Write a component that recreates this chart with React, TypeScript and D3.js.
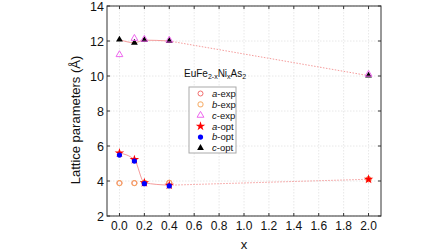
import React from "react";
import * as d3 from "d3";

const xs = [0, 0.12, 0.2, 0.4, 2.0];
const aExp = [3.88, 3.88, 3.9, 3.9, 4.1];
const bExp = [3.88, 3.88, 3.9, 3.9, 4.1];
const cExp = [11.22, 12.15, 12.1, 12.05, 10.1];
const aOpt = [5.6, 5.22, 3.9, 3.76, 4.1];
const bOpt = [5.48, 5.14, 3.85, 3.72, null];
const cOpt = [12.08, 11.9, 12.05, 12.0, 10.02];
const xTicks = [0, 0.2, 0.4, 0.6, 0.8, 1.0, 1.2, 1.4, 1.6, 1.8, 2.0];
const yTicks = [2, 4, 6, 8, 10, 12, 14];
const legendItems = [
  { key: "a", suffix: "-exp", kind: "circle", color: "#f26d6d" },
  { key: "b", suffix: "-exp", kind: "square", color: "#f5a85f" },
  { key: "c", suffix: "-exp", kind: "tri-open", color: "#ee66ee" },
  { key: "a", suffix: "-opt", kind: "star", color: "#ff0000" },
  { key: "b", suffix: "-opt", kind: "dot", color: "#0000ff" },
  { key: "c", suffix: "-opt", kind: "tri", color: "#000000" },
];

const L = 107, R = 381, T = 6, B = 216;
const x = d3.scaleLinear().domain([-0.1, 2.1]).range([L, R]);
const y = d3.scaleLinear().domain([2, 14]).range([B, T]);
const font = "Liberation Sans, Arial, sans-serif";

function Marker({ kind, color, cx, cy }: { kind: string; color: string; cx: number; cy: number }) {
  const sym = (t: d3.SymbolType, size: number) => d3.symbol().type(t).size(size)() as string;
  switch (kind) {
    case "circle":
      return <circle cx={cx} cy={cy} r={2.5} fill="none" stroke={color} strokeWidth={1} />;
    case "square":
      return <rect x={cx - 2.5} y={cy - 2.5} width={5} height={5} rx={2} fill="none" stroke={color} strokeWidth={1} />;
    case "tri-open":
      return <path d={sym(d3.symbolTriangle, 20)} transform={`translate(${cx},${cy})`} fill="none" stroke={color} strokeWidth={1} />;
    case "tri":
      return <path d={sym(d3.symbolTriangle, 20)} transform={`translate(${cx},${cy})`} fill={color} />;
    case "star":
      return <path d={sym(d3.symbolStar, 28)} transform={`translate(${cx},${cy})`} fill={color} />;
    case "dot":
      return <circle cx={cx} cy={cy} r={2.6} fill={color} />;
  }
  return null;
}

export default function App() {
  const smooth = d3
    .line<[number, number]>()
    .x((d) => x(d[0]))
    .y((d) => y(d[1]))
    .curve(d3.curveMonotoneX);
  const straight = d3
    .line<[number, number]>()
    .x((d) => x(d[0]))
    .y((d) => y(d[1]));
  const pts = (vals: number[]) => xs.map((v, i) => [v, vals[i]] as [number, number]);
  const aP = pts(aOpt), cP = pts(cOpt);
  const series: { vals: (number | null)[]; kind: string; color: string }[] = [
    { vals: aExp, kind: "circle", color: legendItems[0].color },
    { vals: bExp, kind: "square", color: legendItems[1].color },
    { vals: cOpt, kind: "tri", color: legendItems[5].color },
    { vals: cExp, kind: "tri-open", color: legendItems[2].color },
    { vals: aOpt, kind: "star", color: legendItems[3].color },
    { vals: bOpt, kind: "dot", color: legendItems[4].color },
  ];
  const lgX = 189, lgY = 87, lgW = 47, lgH = 66, rowH = 10.9;
  const lineStyle = { fill: "none", stroke: "#f28a8a", strokeWidth: 1, opacity: 0.85 };
  return (
    <svg width={448} height={252} style={{ position: "absolute", left: 0, top: 0 }} fontFamily={font}>
      <rect width={448} height={252} fill="#fff" />
      {xTicks.map((t) => (
        <line key={"gx" + t} x1={x(t)} x2={x(t)} y1={T} y2={B} stroke="#e2e2e2" strokeDasharray="1.5 1.5" strokeWidth={0.8} />
      ))}
      {yTicks.map((t) => (
        <line key={"gy" + t} x1={L} x2={R} y1={y(t)} y2={y(t)} stroke="#e2e2e2" strokeDasharray="1.5 1.5" strokeWidth={0.8} />
      ))}
      <path d={smooth(aP.slice(0, 4)) as string} {...lineStyle} />
      <path d={straight(aP.slice(3)) as string} {...lineStyle} strokeDasharray="1.5 1.5" />
      <path d={smooth(cP.slice(0, 4)) as string} {...lineStyle} />
      <path d={straight(cP.slice(3)) as string} {...lineStyle} strokeDasharray="1.5 1.5" />
      {series.map((s, si) =>
        s.vals.map((v, i) =>
          v == null ? null : <Marker key={si + "-" + i} kind={s.kind} color={s.color} cx={x(xs[i])} cy={y(v)} />
        )
      )}
      <rect x={L} y={T} width={R - L} height={B - T} fill="none" stroke="#333" strokeWidth={1} />
      {xTicks.map((t) => (
        <g key={"tx" + t}>
          <line x1={x(t)} x2={x(t)} y1={B} y2={B - 3} stroke="#333" />
          <line x1={x(t)} x2={x(t)} y1={T} y2={T + 3} stroke="#333" />
          <text x={x(t)} y={B + 14} textAnchor="middle" fontSize={12} fill="#111">
            {t.toFixed(1)}
          </text>
        </g>
      ))}
      {yTicks.map((t) => (
        <g key={"ty" + t}>
          <line x1={L} x2={L + 3} y1={y(t)} y2={y(t)} stroke="#333" />
          <line x1={R} x2={R - 3} y1={y(t)} y2={y(t)} stroke="#333" />
          <text x={L - 3} y={y(t) + 4.5} textAnchor="end" fontSize={12.5} fill="#111">
            {t}
          </text>
        </g>
      ))}
      <text x={x(1.0)} y={249} textAnchor="middle" fontSize={13} fill="#111">x</text>
      <text transform={`translate(80,120) rotate(-90)`} textAnchor="middle" fontSize={13} fill="#111">
        Lattice parameters (Å)
      </text>
      <text x={184} y={77} fontSize={10} fill="#111">
        EuFe<tspan fontSize={7} dy={2}>2-x</tspan>
        <tspan dy={-2}>Ni</tspan>
        <tspan fontSize={7} dy={2}>x</tspan>
        <tspan dy={-2}>As</tspan>
        <tspan fontSize={7} dy={2}>2</tspan>
      </text>
      <rect x={lgX} y={lgY} width={lgW} height={lgH} fill="#fff" stroke="#aaa" strokeWidth={1} />
      {legendItems.map((it, i) => {
        const cy = lgY + 6.5 + i * rowH;
        return (
          <g key={"lg" + i}>
            <Marker kind={it.kind} color={it.color} cx={200.5} cy={cy} />
            <text x={212} y={cy + 3.3} fontSize={9.5} fill="#111">
              <tspan fontStyle="italic">{it.key}</tspan>
              {it.suffix}
            </text>
          </g>
        );
      })}
    </svg>
  );
}
